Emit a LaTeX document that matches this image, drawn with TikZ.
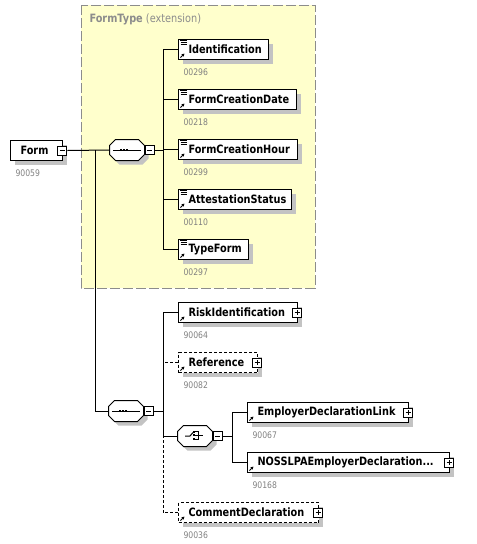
\documentclass[tikz,border=0pt]{standalone}
\usepackage{fontspec}
\setmainfont{DejaVu Sans}[FakeStretch=0.85]
\usetikzlibrary{positioning,shadows,arrows.meta}

\definecolor{typefill}{HTML}{FFFFCC}
\definecolor{typeline}{HTML}{8C8C8C}
\definecolor{idgray}{HTML}{808080}
\definecolor{shadowgray}{HTML}{C3C3C3}

\tikzset{
  xsdshadow/.style={drop shadow={shadow xshift=3pt, shadow yshift=-3pt, fill=shadowgray, opacity=1}},
  elem/.style={draw, fill=white, anchor=north west, minimum height=15pt,
    inner xsep=7.5pt, inner ysep=0pt, align=left, xsdshadow,
    font=\fontsize{8.6}{10}\selectfont\bfseries},
  optional/.style={dash pattern=on 2.25pt off 1.5pt},
  elemid/.style={anchor=north west, inner sep=0pt, text=idgray,
    font=\fontsize{6.8}{8}\selectfont},
  compositor/.style={minimum width=25.5pt, minimum height=15pt, inner sep=0pt},
  toggle/.style={draw, fill=white, minimum size=6.75pt, inner sep=0pt},
  collapse/.style={toggle, path picture={\draw ([xshift=1.5pt]path picture bounding box.west) -- ([xshift=-1.5pt]path picture bounding box.east);}},
  expand/.style={toggle, path picture={\draw ([xshift=1.5pt]path picture bounding box.west) -- ([xshift=-1.5pt]path picture bounding box.east) ([yshift=-1.5pt]path picture bounding box.north) -- ([yshift=1.5pt]path picture bounding box.south);}},
  reficon/.style={-{Triangle[length=2.2pt,width=2.2pt]}},
}

% cut-corner frame round a compositor node
\newcommand\octframe[1]{%
  \draw[fill=white, xsdshadow] ([xshift=4.5pt]#1.north west) -- ([xshift=-4.5pt]#1.north east)
    -- ([yshift=-4.5pt]#1.north east) -- ([yshift=4.5pt]#1.south east)
    -- ([xshift=-4.5pt]#1.south east) -- ([xshift=4.5pt]#1.south west)
    -- ([yshift=4.5pt]#1.south west) -- ([yshift=-4.5pt]#1.north west) -- cycle;}

\begin{document}
\begin{tikzpicture}[x=0.75pt, y=-0.75pt, line width=0.75pt]
    \useasboundingbox (0,0) rectangle (477,544);

    % the FormType extension area
    \fill[typefill] (81,5) rectangle (315,288);
    \draw[typeline, dash pattern=on 7.5pt off 2.25pt] (81,5) rectangle (315,288);
    \node[anchor=north west, inner sep=0pt, text=typeline, font=\fontsize{8.6}{10}\selectfont] (typelabel) at (89,13) {\textbf{FormType} (extension)};

    % root element
    \node[elem, text width=24pt] (form) at (10,140) {Form};
    \node[collapse] (formtog) at ([xshift=-0.5pt]form.east) {};
    \node[elemid] (formid) at ([shift={(5,8)}]form.south west) {90059};
    \coordinate (fork) at (95,150);

    % first sequence (inside FormType)
    \node[compositor] (seq1) at (127,150) {};
    \octframe{seq1}
    \node[collapse, right=0pt of seq1] (seq1tog) {};
    \draw ([xshift=-10.5pt]seq1.center) -- ([xshift=10.5pt]seq1.center);
    \foreach \d in {-6,-3,0}
        \fill ([shift={(\d-1.3,-1.3)}]seq1.center) rectangle ++(2.6,2.6);
    \coordinate (seq1fan) at (163,150);
    \draw (formtog.east) -- (seq1.west);
    \draw (seq1tog.east) -- (seq1fan);

    \foreach \name/\w/\id [count=\i] in {Identification/90/00296, FormCreationDate/118/00218,
        FormCreationHour/119/00299, AttestationStatus/113/00110, TypeForm/70/00297} {
        \pgfmathsetmacro\tw{(\w-20)*0.75}
        \node[elem, text width=\tw pt] (f\i) at (178,-11+50*\i) {\name};
        \node[elemid] (f\i id) at ([shift={(5,8)}]f\i.south west) {\id};
        \draw (f\i.west) -| (seq1fan);
        % facet lines and reference arrow
        \draw[line width=0.55pt] ([shift={(2,1.5)}]f\i.north west) -- ++(6.5,0)
            ([shift={(2.5,3.5)}]f\i.north west) -- ++(6,0)
            ([shift={(2.5,5.5)}]f\i.north west) -- ++(6,0);
        \draw[reficon] ([shift={(2.5,18.5)}]f\i.north west) -- ++(4,-4);
    }

    % second sequence
    \node[compositor] (seq2) at (126,411) {};
    \octframe{seq2}
    \node[collapse, right=0pt of seq2] (seq2tog) {};
    \draw ([xshift=-10.5pt]seq2.center) -- ([xshift=10.5pt]seq2.center);
    \foreach \d in {-6,-3,0}
        \fill ([shift={(\d-1.3,-1.3)}]seq2.center) rectangle ++(2.6,2.6);
    \coordinate (seq2fan) at (163,411);
    \draw (seq2.west) -| (fork);
    \draw (seq2tog.east) -- (seq2fan);

    \node[elem, text width=74.25pt] (risk) at (178,302) {RiskIdentification};
    \node[elem, optional, text width=44.25pt] (ref) at (178,352) {Reference};
    \node[elem, optional, text width=90pt] (comment) at (178,502) {CommentDeclaration};
    \node[elemid] (riskid) at ([shift={(5,8)}]risk.south west) {90064};
    \node[elemid] (refid) at ([shift={(5,8)}]ref.south west) {90082};
    \node[elemid] (commentid) at ([shift={(5,8)}]comment.south west) {90036};

    % choice
    \node[compositor] (choice) at (195,436) {};
    \octframe{choice}
    \node[collapse, right=0pt of choice] (choicetog) {};
    \draw ([shift={(-10,0)}]choice.center) -- ++(5,0) -- ++(3,-3.5);
    \foreach \d in {-4.3,-0.7,3}
        \fill ([shift={(-2.4,\d-1.1)}]choice.center) rectangle ++(2.2,2.2);
    \draw ([shift={(0.3,-4.3)}]choice.center) -- ++(2.7,0) -- ++(0,7.3) -- ++(-2.7,0)
        ([shift={(0.3,-0.5)}]choice.center) -- ++(7.7,0);
    \coordinate (choicefan) at (232,436);
    \draw (choicetog.east) -- (choicefan);

    \node[elem, text width=105.75pt] (edl) at (247,402) {EmployerDeclarationLink};
    \node[elem, text width=136.5pt] (noss) at (247,452) {NOSSLPAEmployerDeclaration...};
    \node[elemid] (edlid) at ([shift={(5,8)}]edl.south west) {90067};
    \node[elemid] (nossid) at ([shift={(5,8)}]noss.south west) {90168};

    \draw (risk.west) -| (seq2fan);
    \draw[optional] (ref.west) -| (seq2fan);
    \draw (choice.west) -| (seq2fan);
    \draw[optional] (comment.west) -| (seq2fan);
    \draw (edl.west) -| (choicefan);
    \draw (noss.west) -| (choicefan);

    % expand boxes and reference arrows
    \foreach \e in {risk,ref,edl,noss,comment} {
        \node[expand] (\e-tog) at ([xshift=-0.75pt]\e.east) {};
        \draw[reficon] ([shift={(2.5,18.5)}]\e.north west) -- ++(4,-4);
    }
\end{tikzpicture}
\end{document}
